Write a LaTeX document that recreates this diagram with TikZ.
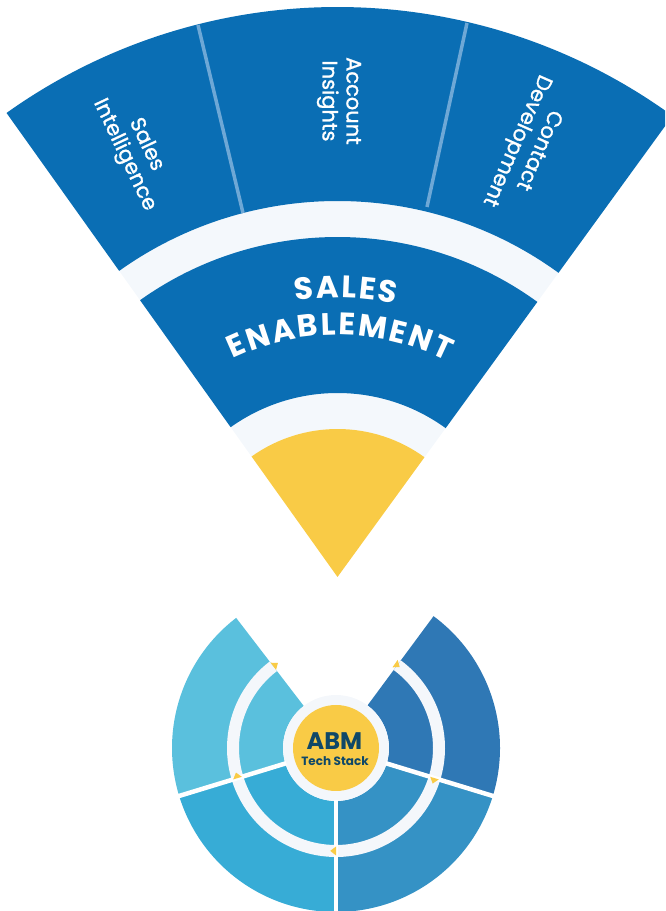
\documentclass[tikz,border=0pt]{standalone}
\usepackage{fontspec}
\newfontfamily\pop{Poppins}
\newfontfamily\popm{Poppins}[FakeBold=1.2]
\usetikzlibrary{calc,decorations.text}
\definecolor{fanblue}{HTML}{0A6EB4}
\definecolor{fanlight}{HTML}{F4F8FC}
\definecolor{divblue}{HTML}{6EA8D6}
\definecolor{yel}{HTML}{F9CB46}
\definecolor{segA}{HTML}{5AC0DD}
\definecolor{segB}{HTML}{37ACD6}
\definecolor{segC}{HTML}{3592C5}
\definecolor{segD}{HTML}{2F78B5}
\definecolor{ringlight}{HTML}{F4F7FB}
\definecolor{abmtext}{HTML}{0F4868}
\newcommand\annsec[6]{\fill[#1] ($(#2)+(#3:#6)$) arc[start angle=#3, end angle=#4, radius=#6] -- ($(#2)+(#4:#5)$) arc[start angle=#4, end angle=#3, radius=#5] -- cycle;}
\newcommand\ringtri[2]{\fill[yel] ($(#1)+(#2:98.5)$) -- ($(#1)+(#2:107.5)$) -- ($(#1)+({#2-3.2}:103)$) -- cycle;}
\begin{document}
\begin{tikzpicture}[x=1pt,y=1pt,
  fanlabel/.style={text=white, font=\popm\fontsize{21}{24}\selectfont, align=center, inner sep=0pt},
  segdiv/.style={white, line width=4.5pt},
  fandiv/.style={divblue, line width=3.5pt}]
\clip (0,0) rectangle (665,911);
% ---------- fan ----------
\coordinate (A) at (337.5,334);
\annsec{fanlight}{A}{54}{125.5}{148}{376}
\annsec{fanblue}{A}{54}{125.5}{184}{340}
\annsec{fanblue}{A}{54}{125.5}{376}{570}
\fill[yel] (A) -- ($(A)+(54:148)$) arc[start angle=54, end angle=125.5, radius=148] -- cycle;
\coordinate (d1top) at (198,886);
\coordinate (d1bot) at (243,698);
\coordinate (d2top) at (467,888);
\coordinate (d2bot) at (427,704);
\draw[fandiv] (d1top) -- (d1bot);
\draw[fandiv] (d2top) -- (d2bot);
\node[fanlabel, rotate=-64.6] (si) at (135,761) {Sales\\Intelligence};
\node[fanlabel, rotate=-90] (ai) at (339,810) {Account\\Insights};
\node[fanlabel, rotate=-113.7] (cd) at (527,766) {Contact\\Development};
\path[decorate, decoration={text along path, text align=fit to path,
  text={|\color{white}\pop\bfseries\fontsize{31}{31}\selectfont|SALES}}]
  ($(A)+(98.6:279)$) arc[start angle=98.6, end angle=78, radius=279];
\path[decorate, decoration={text along path, text align=fit to path,
  text={|\color{white}\pop\bfseries\fontsize{31}{31}\selectfont|ENABLEMENT}}]
  ($(A)+(115.65:242)$) arc[start angle=115.65, end angle=63.1, radius=242];
% ---------- tech stack wheel ----------
\coordinate (C) at (336,163);
\annsec{segA}{C}{127.5}{197}{53}{164}
\annsec{segB}{C}{197}{270}{53}{164}
\annsec{segC}{C}{270}{343}{53}{164}
\annsec{segD}{C}{343}{413.5}{53}{164}
\annsec{ringlight}{C}{127.5}{413.5}{97}{109}
\fill[ringlight] (C) circle[radius=53];
\fill[yel] (C) circle[radius=43];
\draw[segdiv] ($(C)+(197:52)$) -- ($(C)+(197:166)$);
\draw[segdiv] ($(C)+(270:52)$) -- ($(C)+(270:166)$);
\draw[segdiv] ($(C)+(343:52)$) -- ($(C)+(343:166)$);
\ringtri{C}{127.5}
\ringtri{C}{197}
\ringtri{C}{270}
\ringtri{C}{343}
\ringtri{C}{55}
\node[text=abmtext, font=\pop\bfseries\fontsize{24}{24}\selectfont, inner sep=0pt] (abm) at (334.5,169.5) {ABM};
\node[text=abmtext, font=\pop\bfseries\fontsize{12}{13}\selectfont, inner sep=0pt] (ts) at (335,150) {Tech Stack};
\end{tikzpicture}
\end{document}
